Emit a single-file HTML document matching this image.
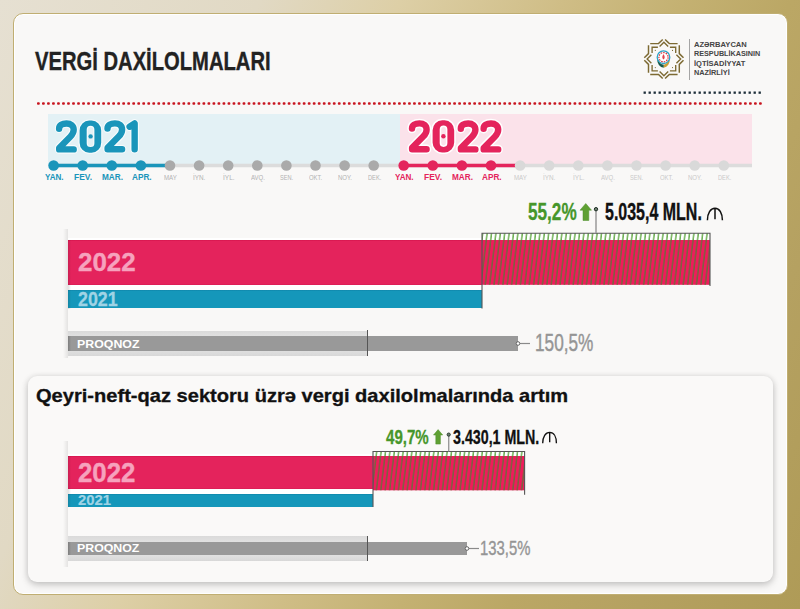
<!DOCTYPE html>
<html><head><meta charset="utf-8">
<style>
*{margin:0;padding:0;box-sizing:border-box}
html,body{width:800px;height:609px;overflow:hidden}
body{position:relative;font-family:"Liberation Sans",sans-serif;
background:linear-gradient(115deg,#e6e0d2 0%,#e1d9c4 24%,#ddcfa6 37%,#cfbd86 52%,#c4b172 63%,#bba765 73%,#b5a161 85%,#af9b57 100%);}
.abs{position:absolute}
.card{position:absolute;left:12.8px;top:12.8px;width:775px;height:582px;border-radius:10px;background:#f9f8f7;border:1px solid #c0ae72;box-shadow:inset 0 0 0 1px #fff}
.t{position:absolute;white-space:nowrap;transform-origin:0 0;line-height:1}
.card2{position:absolute;left:28px;top:376px;width:745px;height:206px;border-radius:9px;background:#faf9f8;
box-shadow:0 1px 6px rgba(0,0,0,.18),0 4px 8px rgba(0,0,0,.10)}
</style></head><body>
<div class="card"></div>

<!-- logo -->
<svg class="abs" style="left:0;top:0" width="800" height="100">
<path d="M665.10 39.40 L669.30 43.60 L677.60 43.60 M679.30 45.30 L679.30 53.60 L683.50 57.80 M683.50 60.20 L679.30 64.40 L679.30 72.70 M677.60 74.40 L669.30 74.40 L665.10 78.60 M662.70 78.60 L658.50 74.40 L650.20 74.40 M648.50 72.70 L648.50 64.40 L644.30 60.20 M644.30 57.80 L648.50 53.60 L648.50 45.30 M650.20 43.60 L658.50 43.60 L662.70 39.40" fill="none" stroke="#7d6a33" stroke-width="1.45" stroke-linejoin="miter"/>
<path d="M669.90 47.20 L675.70 47.20 L675.70 53.00 M676.41 54.71 L680.70 59.00 L676.41 63.29 M675.70 65.00 L675.70 70.80 L669.90 70.80 M668.19 71.51 L663.90 75.80 L659.61 71.51 M657.90 70.80 L652.10 70.80 L652.10 65.00 M651.39 63.29 L647.10 59.00 L651.39 54.71 M652.10 53.00 L652.10 47.20 L657.90 47.20 M659.61 46.49 L663.90 42.20 L668.19 46.49" fill="none" stroke="#7d6a33" stroke-width="1.35" stroke-linejoin="miter"/>
<circle cx="672.50" cy="50.40" r="0.55" fill="#7d6a33"/>
<circle cx="672.50" cy="67.60" r="0.55" fill="#7d6a33"/>
<circle cx="655.30" cy="67.60" r="0.55" fill="#7d6a33"/>
<circle cx="655.30" cy="50.40" r="0.55" fill="#7d6a33"/>
<path d="M657.30 59.40 A7.8 7.8 0 0 0 663.80 67.80 L663.80 64.80 A5.6 5.6 0 0 1 658.90 59.80Z" fill="#1a5b4b"/>
<path d="M669.70 59.40 A7.8 7.8 0 0 1 663.80 67.80 L663.80 64.80 A5.6 5.6 0 0 0 668.10 59.80Z" fill="#c99e36"/>
<circle cx="663.5" cy="57.2" r="6.3" fill="#fff" stroke="#2aa3c6" stroke-width="1.3"/>
<circle cx="663.5" cy="57.2" r="4.6" fill="none" stroke="#d8343c" stroke-width="1.2" stroke-dasharray="1.6 1.0"/>
<path d="M663.5 54.0 C665.1 56.2 665.1 58.400000000000006 663.5 59.400000000000006 C661.9 58.400000000000006 661.9 56.2 663.5 54.0Z" fill="#e2414c"/>
</svg>
<div class="abs" style="left:688.5px;top:38.5px;width:1.6px;height:41.5px;background:#a5a5a5"></div>

<!-- dotted lines -->
<svg class="abs" style="left:0;top:0" width="800" height="120">
 <rect x="643.55" y="91.5" width="2.3" height="2.3" fill="#1c2d38"/>
 <rect x="648.55" y="91.5" width="2.3" height="2.3" fill="#1c2d38"/>
 <rect x="653.55" y="91.5" width="2.3" height="2.3" fill="#1c2d38"/>
 <rect x="658.55" y="91.5" width="2.3" height="2.3" fill="#1c2d38"/>
 <rect x="663.55" y="91.5" width="2.3" height="2.3" fill="#1c2d38"/>
 <rect x="668.55" y="91.5" width="2.3" height="2.3" fill="#1c2d38"/>
 <rect x="673.55" y="91.5" width="2.3" height="2.3" fill="#1c2d38"/>
 <rect x="678.55" y="91.5" width="2.3" height="2.3" fill="#1c2d38"/>
 <rect x="683.55" y="91.5" width="2.3" height="2.3" fill="#1c2d38"/>
 <rect x="688.55" y="91.5" width="2.3" height="2.3" fill="#1c2d38"/>
 <rect x="693.55" y="91.5" width="2.3" height="2.3" fill="#1c2d38"/>
 <rect x="698.55" y="91.5" width="2.3" height="2.3" fill="#1c2d38"/>
 <rect x="703.55" y="91.5" width="2.3" height="2.3" fill="#1c2d38"/>
 <rect x="708.55" y="91.5" width="2.3" height="2.3" fill="#1c2d38"/>
 <rect x="713.55" y="91.5" width="2.3" height="2.3" fill="#1c2d38"/>
 <rect x="718.55" y="91.5" width="2.3" height="2.3" fill="#1c2d38"/>
 <rect x="723.55" y="91.5" width="2.3" height="2.3" fill="#1c2d38"/>
 <rect x="728.55" y="91.5" width="2.3" height="2.3" fill="#1c2d38"/>
 <rect x="733.55" y="91.5" width="2.3" height="2.3" fill="#1c2d38"/>
 <rect x="738.55" y="91.5" width="2.3" height="2.3" fill="#1c2d38"/>
 <rect x="743.55" y="91.5" width="2.3" height="2.3" fill="#1c2d38"/>
 <rect x="748.55" y="91.5" width="2.3" height="2.3" fill="#1c2d38"/>
 <rect x="753.55" y="91.5" width="2.3" height="2.3" fill="#1c2d38"/>
 <rect x="758.55" y="91.5" width="2.3" height="2.3" fill="#1c2d38"/>
 <rect x="37.00" y="102.25" width="2.8" height="2.5" rx="0.9" fill="#c8141f"/>
 <rect x="42.01" y="102.25" width="2.8" height="2.5" rx="0.9" fill="#c8141f"/>
 <rect x="47.03" y="102.25" width="2.8" height="2.5" rx="0.9" fill="#c8141f"/>
 <rect x="52.04" y="102.25" width="2.8" height="2.5" rx="0.9" fill="#c8141f"/>
 <rect x="57.06" y="102.25" width="2.8" height="2.5" rx="0.9" fill="#c8141f"/>
 <rect x="62.07" y="102.25" width="2.8" height="2.5" rx="0.9" fill="#c8141f"/>
 <rect x="67.08" y="102.25" width="2.8" height="2.5" rx="0.9" fill="#c8141f"/>
 <rect x="72.10" y="102.25" width="2.8" height="2.5" rx="0.9" fill="#c8141f"/>
 <rect x="77.11" y="102.25" width="2.8" height="2.5" rx="0.9" fill="#c8141f"/>
 <rect x="82.13" y="102.25" width="2.8" height="2.5" rx="0.9" fill="#c8141f"/>
 <rect x="87.14" y="102.25" width="2.8" height="2.5" rx="0.9" fill="#c8141f"/>
 <rect x="92.15" y="102.25" width="2.8" height="2.5" rx="0.9" fill="#c8141f"/>
 <rect x="97.17" y="102.25" width="2.8" height="2.5" rx="0.9" fill="#c8141f"/>
 <rect x="102.18" y="102.25" width="2.8" height="2.5" rx="0.9" fill="#c8141f"/>
 <rect x="107.20" y="102.25" width="2.8" height="2.5" rx="0.9" fill="#c8141f"/>
 <rect x="112.21" y="102.25" width="2.8" height="2.5" rx="0.9" fill="#c8141f"/>
 <rect x="117.22" y="102.25" width="2.8" height="2.5" rx="0.9" fill="#c8141f"/>
 <rect x="122.24" y="102.25" width="2.8" height="2.5" rx="0.9" fill="#c8141f"/>
 <rect x="127.25" y="102.25" width="2.8" height="2.5" rx="0.9" fill="#c8141f"/>
 <rect x="132.27" y="102.25" width="2.8" height="2.5" rx="0.9" fill="#c8141f"/>
 <rect x="137.28" y="102.25" width="2.8" height="2.5" rx="0.9" fill="#c8141f"/>
 <rect x="142.29" y="102.25" width="2.8" height="2.5" rx="0.9" fill="#c8141f"/>
 <rect x="147.31" y="102.25" width="2.8" height="2.5" rx="0.9" fill="#c8141f"/>
 <rect x="152.32" y="102.25" width="2.8" height="2.5" rx="0.9" fill="#c8141f"/>
 <rect x="157.34" y="102.25" width="2.8" height="2.5" rx="0.9" fill="#c8141f"/>
 <rect x="162.35" y="102.25" width="2.8" height="2.5" rx="0.9" fill="#c8141f"/>
 <rect x="167.36" y="102.25" width="2.8" height="2.5" rx="0.9" fill="#c8141f"/>
 <rect x="172.38" y="102.25" width="2.8" height="2.5" rx="0.9" fill="#c8141f"/>
 <rect x="177.39" y="102.25" width="2.8" height="2.5" rx="0.9" fill="#c8141f"/>
 <rect x="182.41" y="102.25" width="2.8" height="2.5" rx="0.9" fill="#c8141f"/>
 <rect x="187.42" y="102.25" width="2.8" height="2.5" rx="0.9" fill="#c8141f"/>
 <rect x="192.43" y="102.25" width="2.8" height="2.5" rx="0.9" fill="#c8141f"/>
 <rect x="197.45" y="102.25" width="2.8" height="2.5" rx="0.9" fill="#c8141f"/>
 <rect x="202.46" y="102.25" width="2.8" height="2.5" rx="0.9" fill="#c8141f"/>
 <rect x="207.48" y="102.25" width="2.8" height="2.5" rx="0.9" fill="#c8141f"/>
 <rect x="212.49" y="102.25" width="2.8" height="2.5" rx="0.9" fill="#c8141f"/>
 <rect x="217.50" y="102.25" width="2.8" height="2.5" rx="0.9" fill="#c8141f"/>
 <rect x="222.52" y="102.25" width="2.8" height="2.5" rx="0.9" fill="#c8141f"/>
 <rect x="227.53" y="102.25" width="2.8" height="2.5" rx="0.9" fill="#c8141f"/>
 <rect x="232.55" y="102.25" width="2.8" height="2.5" rx="0.9" fill="#c8141f"/>
 <rect x="237.56" y="102.25" width="2.8" height="2.5" rx="0.9" fill="#c8141f"/>
 <rect x="242.57" y="102.25" width="2.8" height="2.5" rx="0.9" fill="#c8141f"/>
 <rect x="247.59" y="102.25" width="2.8" height="2.5" rx="0.9" fill="#c8141f"/>
 <rect x="252.60" y="102.25" width="2.8" height="2.5" rx="0.9" fill="#c8141f"/>
 <rect x="257.62" y="102.25" width="2.8" height="2.5" rx="0.9" fill="#c8141f"/>
 <rect x="262.63" y="102.25" width="2.8" height="2.5" rx="0.9" fill="#c8141f"/>
 <rect x="267.64" y="102.25" width="2.8" height="2.5" rx="0.9" fill="#c8141f"/>
 <rect x="272.66" y="102.25" width="2.8" height="2.5" rx="0.9" fill="#c8141f"/>
 <rect x="277.67" y="102.25" width="2.8" height="2.5" rx="0.9" fill="#c8141f"/>
 <rect x="282.69" y="102.25" width="2.8" height="2.5" rx="0.9" fill="#c8141f"/>
 <rect x="287.70" y="102.25" width="2.8" height="2.5" rx="0.9" fill="#c8141f"/>
 <rect x="292.71" y="102.25" width="2.8" height="2.5" rx="0.9" fill="#c8141f"/>
 <rect x="297.73" y="102.25" width="2.8" height="2.5" rx="0.9" fill="#c8141f"/>
 <rect x="302.74" y="102.25" width="2.8" height="2.5" rx="0.9" fill="#c8141f"/>
 <rect x="307.76" y="102.25" width="2.8" height="2.5" rx="0.9" fill="#c8141f"/>
 <rect x="312.77" y="102.25" width="2.8" height="2.5" rx="0.9" fill="#c8141f"/>
 <rect x="317.78" y="102.25" width="2.8" height="2.5" rx="0.9" fill="#c8141f"/>
 <rect x="322.80" y="102.25" width="2.8" height="2.5" rx="0.9" fill="#c8141f"/>
 <rect x="327.81" y="102.25" width="2.8" height="2.5" rx="0.9" fill="#c8141f"/>
 <rect x="332.83" y="102.25" width="2.8" height="2.5" rx="0.9" fill="#c8141f"/>
 <rect x="337.84" y="102.25" width="2.8" height="2.5" rx="0.9" fill="#c8141f"/>
 <rect x="342.85" y="102.25" width="2.8" height="2.5" rx="0.9" fill="#c8141f"/>
 <rect x="347.87" y="102.25" width="2.8" height="2.5" rx="0.9" fill="#c8141f"/>
 <rect x="352.88" y="102.25" width="2.8" height="2.5" rx="0.9" fill="#c8141f"/>
 <rect x="357.90" y="102.25" width="2.8" height="2.5" rx="0.9" fill="#c8141f"/>
 <rect x="362.91" y="102.25" width="2.8" height="2.5" rx="0.9" fill="#c8141f"/>
 <rect x="367.92" y="102.25" width="2.8" height="2.5" rx="0.9" fill="#c8141f"/>
 <rect x="372.94" y="102.25" width="2.8" height="2.5" rx="0.9" fill="#c8141f"/>
 <rect x="377.95" y="102.25" width="2.8" height="2.5" rx="0.9" fill="#c8141f"/>
 <rect x="382.97" y="102.25" width="2.8" height="2.5" rx="0.9" fill="#c8141f"/>
 <rect x="387.98" y="102.25" width="2.8" height="2.5" rx="0.9" fill="#c8141f"/>
 <rect x="392.99" y="102.25" width="2.8" height="2.5" rx="0.9" fill="#c8141f"/>
 <rect x="398.01" y="102.25" width="2.8" height="2.5" rx="0.9" fill="#c8141f"/>
 <rect x="403.02" y="102.25" width="2.8" height="2.5" rx="0.9" fill="#c8141f"/>
 <rect x="408.04" y="102.25" width="2.8" height="2.5" rx="0.9" fill="#c8141f"/>
 <rect x="413.05" y="102.25" width="2.8" height="2.5" rx="0.9" fill="#c8141f"/>
 <rect x="418.06" y="102.25" width="2.8" height="2.5" rx="0.9" fill="#c8141f"/>
 <rect x="423.08" y="102.25" width="2.8" height="2.5" rx="0.9" fill="#c8141f"/>
 <rect x="428.09" y="102.25" width="2.8" height="2.5" rx="0.9" fill="#c8141f"/>
 <rect x="433.11" y="102.25" width="2.8" height="2.5" rx="0.9" fill="#c8141f"/>
 <rect x="438.12" y="102.25" width="2.8" height="2.5" rx="0.9" fill="#c8141f"/>
 <rect x="443.13" y="102.25" width="2.8" height="2.5" rx="0.9" fill="#c8141f"/>
 <rect x="448.15" y="102.25" width="2.8" height="2.5" rx="0.9" fill="#c8141f"/>
 <rect x="453.16" y="102.25" width="2.8" height="2.5" rx="0.9" fill="#c8141f"/>
 <rect x="458.18" y="102.25" width="2.8" height="2.5" rx="0.9" fill="#c8141f"/>
 <rect x="463.19" y="102.25" width="2.8" height="2.5" rx="0.9" fill="#c8141f"/>
 <rect x="468.20" y="102.25" width="2.8" height="2.5" rx="0.9" fill="#c8141f"/>
 <rect x="473.22" y="102.25" width="2.8" height="2.5" rx="0.9" fill="#c8141f"/>
 <rect x="478.23" y="102.25" width="2.8" height="2.5" rx="0.9" fill="#c8141f"/>
 <rect x="483.25" y="102.25" width="2.8" height="2.5" rx="0.9" fill="#c8141f"/>
 <rect x="488.26" y="102.25" width="2.8" height="2.5" rx="0.9" fill="#c8141f"/>
 <rect x="493.27" y="102.25" width="2.8" height="2.5" rx="0.9" fill="#c8141f"/>
 <rect x="498.29" y="102.25" width="2.8" height="2.5" rx="0.9" fill="#c8141f"/>
 <rect x="503.30" y="102.25" width="2.8" height="2.5" rx="0.9" fill="#c8141f"/>
 <rect x="508.32" y="102.25" width="2.8" height="2.5" rx="0.9" fill="#c8141f"/>
 <rect x="513.33" y="102.25" width="2.8" height="2.5" rx="0.9" fill="#c8141f"/>
 <rect x="518.34" y="102.25" width="2.8" height="2.5" rx="0.9" fill="#c8141f"/>
 <rect x="523.36" y="102.25" width="2.8" height="2.5" rx="0.9" fill="#c8141f"/>
 <rect x="528.37" y="102.25" width="2.8" height="2.5" rx="0.9" fill="#c8141f"/>
 <rect x="533.39" y="102.25" width="2.8" height="2.5" rx="0.9" fill="#c8141f"/>
 <rect x="538.40" y="102.25" width="2.8" height="2.5" rx="0.9" fill="#c8141f"/>
 <rect x="543.41" y="102.25" width="2.8" height="2.5" rx="0.9" fill="#c8141f"/>
 <rect x="548.43" y="102.25" width="2.8" height="2.5" rx="0.9" fill="#c8141f"/>
 <rect x="553.44" y="102.25" width="2.8" height="2.5" rx="0.9" fill="#c8141f"/>
 <rect x="558.46" y="102.25" width="2.8" height="2.5" rx="0.9" fill="#c8141f"/>
 <rect x="563.47" y="102.25" width="2.8" height="2.5" rx="0.9" fill="#c8141f"/>
 <rect x="568.48" y="102.25" width="2.8" height="2.5" rx="0.9" fill="#c8141f"/>
 <rect x="573.50" y="102.25" width="2.8" height="2.5" rx="0.9" fill="#c8141f"/>
 <rect x="578.51" y="102.25" width="2.8" height="2.5" rx="0.9" fill="#c8141f"/>
 <rect x="583.53" y="102.25" width="2.8" height="2.5" rx="0.9" fill="#c8141f"/>
 <rect x="588.54" y="102.25" width="2.8" height="2.5" rx="0.9" fill="#c8141f"/>
 <rect x="593.55" y="102.25" width="2.8" height="2.5" rx="0.9" fill="#c8141f"/>
 <rect x="598.57" y="102.25" width="2.8" height="2.5" rx="0.9" fill="#c8141f"/>
 <rect x="603.58" y="102.25" width="2.8" height="2.5" rx="0.9" fill="#c8141f"/>
 <rect x="608.60" y="102.25" width="2.8" height="2.5" rx="0.9" fill="#c8141f"/>
 <rect x="613.61" y="102.25" width="2.8" height="2.5" rx="0.9" fill="#c8141f"/>
 <rect x="618.62" y="102.25" width="2.8" height="2.5" rx="0.9" fill="#c8141f"/>
 <rect x="623.64" y="102.25" width="2.8" height="2.5" rx="0.9" fill="#c8141f"/>
 <rect x="628.65" y="102.25" width="2.8" height="2.5" rx="0.9" fill="#c8141f"/>
 <rect x="633.67" y="102.25" width="2.8" height="2.5" rx="0.9" fill="#c8141f"/>
 <rect x="638.68" y="102.25" width="2.8" height="2.5" rx="0.9" fill="#c8141f"/>
 <rect x="643.69" y="102.25" width="2.8" height="2.5" rx="0.9" fill="#c8141f"/>
 <rect x="648.71" y="102.25" width="2.8" height="2.5" rx="0.9" fill="#c8141f"/>
 <rect x="653.72" y="102.25" width="2.8" height="2.5" rx="0.9" fill="#c8141f"/>
 <rect x="658.74" y="102.25" width="2.8" height="2.5" rx="0.9" fill="#c8141f"/>
 <rect x="663.75" y="102.25" width="2.8" height="2.5" rx="0.9" fill="#c8141f"/>
 <rect x="668.76" y="102.25" width="2.8" height="2.5" rx="0.9" fill="#c8141f"/>
 <rect x="673.78" y="102.25" width="2.8" height="2.5" rx="0.9" fill="#c8141f"/>
 <rect x="678.79" y="102.25" width="2.8" height="2.5" rx="0.9" fill="#c8141f"/>
 <rect x="683.81" y="102.25" width="2.8" height="2.5" rx="0.9" fill="#c8141f"/>
 <rect x="688.82" y="102.25" width="2.8" height="2.5" rx="0.9" fill="#c8141f"/>
 <rect x="693.83" y="102.25" width="2.8" height="2.5" rx="0.9" fill="#c8141f"/>
 <rect x="698.85" y="102.25" width="2.8" height="2.5" rx="0.9" fill="#c8141f"/>
 <rect x="703.86" y="102.25" width="2.8" height="2.5" rx="0.9" fill="#c8141f"/>
 <rect x="708.88" y="102.25" width="2.8" height="2.5" rx="0.9" fill="#c8141f"/>
 <rect x="713.89" y="102.25" width="2.8" height="2.5" rx="0.9" fill="#c8141f"/>
 <rect x="718.90" y="102.25" width="2.8" height="2.5" rx="0.9" fill="#c8141f"/>
 <rect x="723.92" y="102.25" width="2.8" height="2.5" rx="0.9" fill="#c8141f"/>
 <rect x="728.93" y="102.25" width="2.8" height="2.5" rx="0.9" fill="#c8141f"/>
 <rect x="733.95" y="102.25" width="2.8" height="2.5" rx="0.9" fill="#c8141f"/>
 <rect x="738.96" y="102.25" width="2.8" height="2.5" rx="0.9" fill="#c8141f"/>
 <rect x="743.97" y="102.25" width="2.8" height="2.5" rx="0.9" fill="#c8141f"/>
 <rect x="748.99" y="102.25" width="2.8" height="2.5" rx="0.9" fill="#c8141f"/>
 <rect x="754.00" y="102.25" width="2.8" height="2.5" rx="0.9" fill="#c8141f"/>
 <rect x="759.02" y="102.25" width="2.8" height="2.5" rx="0.9" fill="#c8141f"/>
</svg>

<!-- timeline bands -->
<div class="abs" style="left:48px;top:114.3px;width:352px;height:51px;background:#e3f1f5"></div>
<div class="abs" style="left:400px;top:114.3px;width:352px;height:51px;background:#fbe2ea"></div>

<!-- year digits -->
<svg class="abs" style="left:0;top:110px" width="800" height="50" viewBox="0 110 800 50">
 <g stroke="#f7fcfd" stroke-width="8.6">
  <path transform="translate(55.9 120.3)" d="M3.2 8.4 C3.2 4.8 6.3 3.2 10.6 3.2 C15.0 3.2 17.8 5.4 17.8 9.5 C17.8 12.4 16.6 14.2 14.4 16.4 L3.3 27.6 L3.3 29.1 L17.8 29.1" fill="none" stroke-linecap="round" stroke-linejoin="round"/><path transform="translate(104.3 120.2)" d="M3.2 8.4 C3.2 4.8 6.3 3.2 10.6 3.2 C15.0 3.2 17.8 5.4 17.8 9.5 C17.8 12.4 16.6 14.2 14.4 16.4 L3.3 27.6 L3.3 29.1 L17.8 29.1" fill="none" stroke-linecap="round" stroke-linejoin="round"/><path transform="translate(126.4 120.1)" d="M3.2 6.6 L8.25 3.3 L8.25 29.1" fill="none" stroke-linecap="round" stroke-linejoin="round"/>
 </g>
 <path transform="translate(79.6 120.5)" d="M9.6 0 H12 A9.6 10 0 0 1 21.6 10 V22.2 A9.6 10 0 0 1 12 32.2 H9.6 A9.6 10 0 0 1 0 22.2 V10 A9.6 10 0 0 1 9.6 0Z M10.95 5.3 A3.85 3.85 0 0 0 7.1 9.15 V22.75 A3.85 3.85 0 0 0 14.8 22.75 V9.15 A3.85 3.85 0 0 0 10.95 5.3Z" fill-rule="evenodd" fill="#1a95ba" stroke="#f7fcfd" stroke-width="2.2"/>
 <g stroke="#1a95ba" stroke-width="6.4">
  <path transform="translate(55.9 120.3)" d="M3.2 8.4 C3.2 4.8 6.3 3.2 10.6 3.2 C15.0 3.2 17.8 5.4 17.8 9.5 C17.8 12.4 16.6 14.2 14.4 16.4 L3.3 27.6 L3.3 29.1 L17.8 29.1" fill="none" stroke-linecap="round" stroke-linejoin="round"/><path transform="translate(104.3 120.2)" d="M3.2 8.4 C3.2 4.8 6.3 3.2 10.6 3.2 C15.0 3.2 17.8 5.4 17.8 9.5 C17.8 12.4 16.6 14.2 14.4 16.4 L3.3 27.6 L3.3 29.1 L17.8 29.1" fill="none" stroke-linecap="round" stroke-linejoin="round"/><path transform="translate(126.4 120.1)" d="M3.2 6.6 L8.25 3.3 L8.25 29.1" fill="none" stroke-linecap="round" stroke-linejoin="round"/>
 </g>
 <path transform="translate(79.6 120.5)" d="M9.6 0 H12 A9.6 10 0 0 1 21.6 10 V22.2 A9.6 10 0 0 1 12 32.2 H9.6 A9.6 10 0 0 1 0 22.2 V10 A9.6 10 0 0 1 9.6 0Z M10.95 5.3 A3.85 3.85 0 0 0 7.1 9.15 V22.75 A3.85 3.85 0 0 0 14.8 22.75 V9.15 A3.85 3.85 0 0 0 10.95 5.3Z" fill-rule="evenodd" fill="#1a95ba"/>
 <circle cx="90.6" cy="136.4" r="2.2" fill="#1a95ba"/>

 <g stroke="#ffffff" stroke-width="9.4">
  <path transform="translate(408.8 120.2)" d="M3.2 8.4 C3.2 4.8 6.3 3.2 10.6 3.2 C15.0 3.2 17.8 5.4 17.8 9.5 C17.8 12.4 16.6 14.2 14.4 16.4 L3.3 27.6 L3.3 29.1 L17.8 29.1" fill="none" stroke-linecap="round" stroke-linejoin="round"/><path transform="translate(457.6 120.3)" d="M3.2 8.4 C3.2 4.8 6.3 3.2 10.6 3.2 C15.0 3.2 17.8 5.4 17.8 9.5 C17.8 12.4 16.6 14.2 14.4 16.4 L3.3 27.6 L3.3 29.1 L17.8 29.1" fill="none" stroke-linecap="round" stroke-linejoin="round"/><path transform="translate(480.4 120.3)" d="M3.2 8.4 C3.2 4.8 6.3 3.2 10.6 3.2 C15.0 3.2 17.8 5.4 17.8 9.5 C17.8 12.4 16.6 14.2 14.4 16.4 L3.3 27.6 L3.3 29.1 L17.8 29.1" fill="none" stroke-linecap="round" stroke-linejoin="round"/>
 </g>
 <path transform="translate(432.6 120.3)" d="M9.6 0 H12 A9.6 10 0 0 1 21.6 10 V22.2 A9.6 10 0 0 1 12 32.2 H9.6 A9.6 10 0 0 1 0 22.2 V10 A9.6 10 0 0 1 9.6 0Z M10.95 5.3 A3.85 3.85 0 0 0 7.1 9.15 V22.75 A3.85 3.85 0 0 0 14.8 22.75 V9.15 A3.85 3.85 0 0 0 10.95 5.3Z" fill-rule="evenodd" fill="#e4245c" stroke="#ffffff" stroke-width="3"/>
 <g stroke="#e4245c" stroke-width="6.4">
  <path transform="translate(408.8 120.2)" d="M3.2 8.4 C3.2 4.8 6.3 3.2 10.6 3.2 C15.0 3.2 17.8 5.4 17.8 9.5 C17.8 12.4 16.6 14.2 14.4 16.4 L3.3 27.6 L3.3 29.1 L17.8 29.1" fill="none" stroke-linecap="round" stroke-linejoin="round"/><path transform="translate(457.6 120.3)" d="M3.2 8.4 C3.2 4.8 6.3 3.2 10.6 3.2 C15.0 3.2 17.8 5.4 17.8 9.5 C17.8 12.4 16.6 14.2 14.4 16.4 L3.3 27.6 L3.3 29.1 L17.8 29.1" fill="none" stroke-linecap="round" stroke-linejoin="round"/><path transform="translate(480.4 120.3)" d="M3.2 8.4 C3.2 4.8 6.3 3.2 10.6 3.2 C15.0 3.2 17.8 5.4 17.8 9.5 C17.8 12.4 16.6 14.2 14.4 16.4 L3.3 27.6 L3.3 29.1 L17.8 29.1" fill="none" stroke-linecap="round" stroke-linejoin="round"/>
 </g>
 <path transform="translate(432.6 120.3)" d="M9.6 0 H12 A9.6 10 0 0 1 21.6 10 V22.2 A9.6 10 0 0 1 12 32.2 H9.6 A9.6 10 0 0 1 0 22.2 V10 A9.6 10 0 0 1 9.6 0Z M10.95 5.3 A3.85 3.85 0 0 0 7.1 9.15 V22.75 A3.85 3.85 0 0 0 14.8 22.75 V9.15 A3.85 3.85 0 0 0 10.95 5.3Z" fill-rule="evenodd" fill="#e4245c"/>
 <circle cx="443.4" cy="136.2" r="2.2" fill="#e4245c"/>
</svg>

<!-- timeline line + dots -->
<svg class="abs" style="left:0;top:155px" width="800" height="22" viewBox="0 155 800 22">
 <line x1="50" y1="165.5" x2="752" y2="165.5" stroke="#dcdcdc" stroke-width="3.6"/>
 <line x1="53.6" y1="165.5" x2="166" y2="165.5" stroke="#1a95ba" stroke-width="3.4"/>
 <line x1="403.7" y1="165.5" x2="516" y2="165.5" stroke="#e4245c" stroke-width="3.4"/>
<circle cx="53.6" cy="165.5" r="5.3" fill="#1a95ba"/>
<circle cx="403.7" cy="165.5" r="5.3" fill="#e4245c"/>
<circle cx="82.7" cy="165.5" r="5.3" fill="#1a95ba"/>
<circle cx="432.8" cy="165.5" r="5.3" fill="#e4245c"/>
<circle cx="111.8" cy="165.5" r="5.3" fill="#1a95ba"/>
<circle cx="461.9" cy="165.5" r="5.3" fill="#e4245c"/>
<circle cx="140.9" cy="165.5" r="5.3" fill="#1a95ba"/>
<circle cx="491.0" cy="165.5" r="5.3" fill="#e4245c"/>
<circle cx="170.0" cy="165.5" r="5.3" fill="#aaaaaa"/>
<circle cx="520.1" cy="165.5" r="5.3" fill="#d9d9d9"/>
<circle cx="199.1" cy="165.5" r="5.3" fill="#aaaaaa"/>
<circle cx="549.2" cy="165.5" r="5.3" fill="#d9d9d9"/>
<circle cx="228.2" cy="165.5" r="5.3" fill="#aaaaaa"/>
<circle cx="578.3" cy="165.5" r="5.3" fill="#d9d9d9"/>
<circle cx="257.3" cy="165.5" r="5.3" fill="#aaaaaa"/>
<circle cx="607.4" cy="165.5" r="5.3" fill="#d9d9d9"/>
<circle cx="286.4" cy="165.5" r="5.3" fill="#aaaaaa"/>
<circle cx="636.5" cy="165.5" r="5.3" fill="#d9d9d9"/>
<circle cx="315.5" cy="165.5" r="5.3" fill="#aaaaaa"/>
<circle cx="665.6" cy="165.5" r="5.3" fill="#d9d9d9"/>
<circle cx="344.6" cy="165.5" r="5.3" fill="#aaaaaa"/>
<circle cx="694.7" cy="165.5" r="5.3" fill="#d9d9d9"/>
<circle cx="373.7" cy="165.5" r="5.3" fill="#aaaaaa"/>
<circle cx="723.8" cy="165.5" r="5.3" fill="#d9d9d9"/>
</svg>

<!-- section 1 -->
<div class="abs" style="left:63px;top:229px;width:5px;height:129px;background:linear-gradient(90deg,rgba(0,0,0,0),rgba(0,0,0,.085))"></div>
<div class="abs" style="left:68px;top:237.6px;width:414px;height:53px;background:#fff"></div>
<div class="abs" style="left:68px;top:240px;width:414px;height:44.7px;background:linear-gradient(#d3134b,#e4235c 1.2px,#e4235c calc(100% - 1px),#d61a52);"></div>
<div class="abs" style="left:68px;top:290.3px;width:414px;height:18.2px;background:linear-gradient(#0f84a8,#1597ba 1.2px)"></div>

<div class="abs" style="left:68px;top:330.5px;width:300px;height:25.5px;background:linear-gradient(#dadada,#e6e6e6 40%,#e6e6e6 60%,#d8d8d8)"></div>
<div class="abs" style="left:68px;top:336.2px;width:450px;height:14.5px;background:#999999"></div>
<div class="abs" style="left:366.8px;top:329.8px;width:1.3px;height:26.6px;background:#555"></div>

<!-- section 2 card -->
<div class="card2"></div>

<div class="abs" style="left:63px;top:441px;width:5px;height:126px;background:linear-gradient(90deg,rgba(0,0,0,0),rgba(0,0,0,.085))"></div>
<div class="abs" style="left:68px;top:454px;width:305px;height:40px;background:#fff"></div>
<div class="abs" style="left:68px;top:456px;width:305px;height:33.3px;background:linear-gradient(#d3134b,#e4235c 1.2px,#e4235c calc(100% - 1px),#d61a52);"></div>
<div class="abs" style="left:68px;top:493.6px;width:305px;height:13.6px;background:linear-gradient(#0f84a8,#1597ba 1.2px)"></div>

<div class="abs" style="left:68px;top:535.8px;width:300px;height:25.2px;background:linear-gradient(#dadada,#e6e6e6 40%,#e6e6e6 60%,#d8d8d8)"></div>
<div class="abs" style="left:68px;top:541.5px;width:399px;height:13.8px;background:#999999"></div>
<div class="abs" style="left:366.8px;top:535.5px;width:1.3px;height:25.8px;background:#555"></div>

<div class="abs" style="left:68px;top:240px;width:3px;height:68.5px;background:linear-gradient(90deg,rgba(0,0,0,.12),rgba(0,0,0,0))"></div>
<div class="abs" style="left:68px;top:336.2px;width:3px;height:14.5px;background:linear-gradient(90deg,rgba(0,0,0,.18),rgba(0,0,0,0))"></div>
<div class="abs" style="left:68px;top:456px;width:3px;height:51.2px;background:linear-gradient(90deg,rgba(0,0,0,.12),rgba(0,0,0,0))"></div>
<div class="abs" style="left:68px;top:541.5px;width:3px;height:13.8px;background:linear-gradient(90deg,rgba(0,0,0,.18),rgba(0,0,0,0))"></div>
<!-- hatched boxes + annotations -->
<svg class="abs" style="left:0;top:0" width="800" height="609">
 <defs>
  <pattern id="hp" width="4.4" height="10" patternUnits="userSpaceOnUse" patternTransform="skewX(-7)">
   <line x1="1" y1="0" x2="1" y2="10" stroke="#62a845" stroke-width="1.4"/>
  </pattern>
  <pattern id="hp2" width="4.4" height="10" patternUnits="userSpaceOnUse" patternTransform="skewX(-7)">
   <line x1="1" y1="0" x2="1" y2="10" stroke="#6f6a3c" stroke-width="1.4"/>
  </pattern>
 </defs>
 <!-- box 1 -->
 <rect x="482" y="233.2" width="228" height="7" fill="#fff"/>
 <rect x="482" y="233.2" width="228" height="7" fill="url(#hp)"/>
 <rect x="482" y="240" width="228" height="44.8" fill="#ef1b5b"/>
 <rect x="482" y="240" width="228" height="44.8" fill="url(#hp2)"/>
 <path d="M482 308.5 L482 233.2 L710 233.2 L710 286" fill="none" stroke="#555" stroke-width="1.1"/>
 <line x1="596" y1="210" x2="596" y2="233" stroke="#9a9a9a" stroke-width="1.5"/>
 <circle cx="596" cy="209.2" r="1.7" fill="#6d7f70" stroke="#1f2f25" stroke-width="1"/>
 <!-- box 2 -->
 <rect x="373" y="451.5" width="151.6" height="4.6" fill="#fff"/>
 <rect x="373" y="451.5" width="151.6" height="4.6" fill="url(#hp)"/>
 <rect x="373" y="456" width="151.6" height="34.3" fill="#ef1b5b"/>
 <rect x="373" y="456" width="151.6" height="34.3" fill="url(#hp2)"/>
 <path d="M373 507 L373 451.5 L524.6 451.5 L524.6 494.8" fill="none" stroke="#555" stroke-width="1.1"/>
 <line x1="448.7" y1="435.5" x2="448.7" y2="451.5" stroke="#9a9a9a" stroke-width="1.4"/>
 <circle cx="448.7" cy="434.6" r="1.6" fill="#6d7f70" stroke="#1f2f25" stroke-width="0.9"/>
 <!-- proqnoz ends -->
 <line x1="518" y1="343.5" x2="530" y2="343.5" stroke="#8a8a8a" stroke-width="1.2"/>
 <circle cx="518" cy="343.5" r="1.8" fill="#fff" stroke="#666" stroke-width="1"/>
 <line x1="467" y1="548.5" x2="479" y2="548.5" stroke="#8a8a8a" stroke-width="1.2"/>
 <circle cx="467" cy="548.5" r="1.8" fill="#fff" stroke="#666" stroke-width="1"/>
 <!-- arrows -->
 <path d="M585.75 203.5 L591.5 210.2 L588.8 210.2 L588.8 220.5 L583 220.5 L583 210.2 L580 210.2Z" fill="#5fa033" stroke="#4d8f2a" stroke-width="0.5" stroke-linejoin="round"/>
 <path d="M438.1 429.6 L442.7 435 L440.4 435 L440.4 444.1 L435.8 444.1 L435.8 435 L433.5 435Z" fill="#5fa033" stroke="#4d8f2a" stroke-width="0.5" stroke-linejoin="round"/>
 <!-- manat -->
 <path d="M707.4 220.3 C707.4 213 710.5 208.3 715 208.3 C719.5 208.3 722.4 213 722.4 220.3 M715 208.3 L715 219.3" fill="none" stroke="#111" stroke-width="1.5"/>
 <path d="M542.7 443.2 C542.7 436.6 545.6 432.3 549.7 432.3 C553.8 432.3 556.4 436.6 556.4 443.2 M549.7 432.3 L549.7 442.2" fill="none" stroke="#111" stroke-width="1.35"/>
</svg>

<div class="t" style="left:34.50px;top:49.24px;font-size:25.60px;font-weight:700;color:#222;transform:scaleX(0.7892);-webkit-text-stroke:0.35px #222;">VERGİ DAXİLOLMALARI</div>
<div class="t" style="left:694.38px;top:41.66px;font-size:7.11px;font-weight:700;color:#454545;transform:scaleX(1.0661);">AZƏRBAYCAN</div>
<div class="t" style="left:694.05px;top:51.16px;font-size:7.11px;font-weight:700;color:#454545;transform:scaleX(1.0159);">RESPUBLİKASININ</div>
<div class="t" style="left:694.03px;top:60.96px;font-size:7.11px;font-weight:700;color:#454545;transform:scaleX(1.0551);">İQTİSADİYYAT</div>
<div class="t" style="left:694.04px;top:70.46px;font-size:7.11px;font-weight:700;color:#454545;transform:scaleX(1.0295);">NAZİRLİYİ</div>
<div class="t" style="left:44.87px;top:172.32px;font-size:9.39px;font-weight:700;color:#1a95ba;transform:scaleX(0.8628);">YAN.</div>
<div class="t" style="left:74.07px;top:172.32px;font-size:9.39px;font-weight:700;color:#1a95ba;transform:scaleX(0.9014);">FEV.</div>
<div class="t" style="left:101.69px;top:172.32px;font-size:9.39px;font-weight:700;color:#1a95ba;transform:scaleX(0.8755);">MAR.</div>
<div class="t" style="left:131.67px;top:172.32px;font-size:9.39px;font-weight:700;color:#1a95ba;transform:scaleX(0.8746);">APR.</div>
<div class="t" style="left:163.77px;top:174.41px;font-size:7.40px;font-weight:400;color:#b2b2b2;transform:scaleX(0.8300);">MAY</div>
<div class="t" style="left:193.35px;top:174.41px;font-size:7.40px;font-weight:400;color:#b2b2b2;transform:scaleX(0.8602);">İYN.</div>
<div class="t" style="left:222.84px;top:174.41px;font-size:7.40px;font-weight:400;color:#b2b2b2;transform:scaleX(0.8817);">İYL.</div>
<div class="t" style="left:251.00px;top:174.41px;font-size:7.40px;font-weight:400;color:#b2b2b2;transform:scaleX(0.8143);">AVQ.</div>
<div class="t" style="left:280.37px;top:174.41px;font-size:7.40px;font-weight:400;color:#b2b2b2;transform:scaleX(0.7640);">SEN.</div>
<div class="t" style="left:309.47px;top:174.41px;font-size:7.40px;font-weight:400;color:#b2b2b2;transform:scaleX(0.7975);">OKT.</div>
<div class="t" style="left:338.03px;top:174.41px;font-size:7.40px;font-weight:400;color:#b2b2b2;transform:scaleX(0.8186);">NOY.</div>
<div class="t" style="left:367.51px;top:174.41px;font-size:7.40px;font-weight:400;color:#b2b2b2;transform:scaleX(0.7680);">DEK.</div>
<div class="t" style="left:394.97px;top:172.32px;font-size:9.39px;font-weight:700;color:#e4245c;transform:scaleX(0.8628);">YAN.</div>
<div class="t" style="left:424.17px;top:172.32px;font-size:9.39px;font-weight:700;color:#e4245c;transform:scaleX(0.9014);">FEV.</div>
<div class="t" style="left:451.79px;top:172.32px;font-size:9.39px;font-weight:700;color:#e4245c;transform:scaleX(0.8755);">MAR.</div>
<div class="t" style="left:481.77px;top:172.32px;font-size:9.39px;font-weight:700;color:#e4245c;transform:scaleX(0.8746);">APR.</div>
<div class="t" style="left:513.87px;top:174.41px;font-size:7.40px;font-weight:400;color:#c9c9c9;transform:scaleX(0.8300);">MAY</div>
<div class="t" style="left:543.45px;top:174.41px;font-size:7.40px;font-weight:400;color:#c9c9c9;transform:scaleX(0.8602);">İYN.</div>
<div class="t" style="left:572.94px;top:174.41px;font-size:7.40px;font-weight:400;color:#c9c9c9;transform:scaleX(0.8817);">İYL.</div>
<div class="t" style="left:601.10px;top:174.41px;font-size:7.40px;font-weight:400;color:#c9c9c9;transform:scaleX(0.8143);">AVQ.</div>
<div class="t" style="left:630.47px;top:174.41px;font-size:7.40px;font-weight:400;color:#c9c9c9;transform:scaleX(0.7640);">SEN.</div>
<div class="t" style="left:659.57px;top:174.41px;font-size:7.40px;font-weight:400;color:#c9c9c9;transform:scaleX(0.7975);">OKT.</div>
<div class="t" style="left:688.13px;top:174.41px;font-size:7.40px;font-weight:400;color:#c9c9c9;transform:scaleX(0.8186);">NOY.</div>
<div class="t" style="left:717.61px;top:174.41px;font-size:7.40px;font-weight:400;color:#c9c9c9;transform:scaleX(0.7680);">DEK.</div>
<div class="t" style="left:77.59px;top:249.39px;font-size:26.60px;font-weight:700;color:#f6a2bd;transform:scaleX(0.9745);-webkit-text-stroke:0.4px #f6a2bd;">2022</div>
<div class="t" style="left:77.74px;top:289.90px;font-size:19.77px;font-weight:700;color:#9fd3e5;transform:scaleX(0.9028);-webkit-text-stroke:0.3px #9fd3e5;">2021</div>
<div class="t" style="left:77.23px;top:338.09px;font-size:11.66px;font-weight:700;color:#fff;transform:scaleX(1.0598);">PROQNOZ</div>
<div class="t" style="left:77.69px;top:459.87px;font-size:26.74px;font-weight:700;color:#f6a2bd;transform:scaleX(0.9659);-webkit-text-stroke:0.4px #f6a2bd;">2022</div>
<div class="t" style="left:77.73px;top:493.11px;font-size:14.93px;font-weight:700;color:#9fd3e5;transform:scaleX(0.9975);-webkit-text-stroke:0.2px #9fd3e5;">2021</div>
<div class="t" style="left:77.23px;top:543.17px;font-size:11.09px;font-weight:700;color:#fff;transform:scaleX(1.1141);">PROQNOZ</div>
<div class="t" style="left:35.67px;top:386.93px;font-size:18.20px;font-weight:700;color:#111;transform:scaleX(1.1038);-webkit-text-stroke:0.3px #111;">Qeyri-neft-qaz sektoru üzrə vergi daxilolmalarında artım</div>
<div class="t" style="left:528.13px;top:200.80px;font-size:23.18px;font-weight:700;color:#46962a;transform:scaleX(0.7411);-webkit-text-stroke:0.3px #46962a;">55,2%</div>
<div class="t" style="left:605.05px;top:200.80px;font-size:23.18px;font-weight:700;color:#111;transform:scaleX(0.6899);-webkit-text-stroke:0.35px #111;">5.035,4 MLN.</div>
<div class="t" style="left:534.92px;top:331.25px;font-size:24.18px;font-weight:400;color:#959595;transform:scaleX(0.7120);-webkit-text-stroke:0.45px #959595;">150,5%</div>
<div class="t" style="left:386.20px;top:426.95px;font-size:20.76px;font-weight:700;color:#46962a;transform:scaleX(0.7272);-webkit-text-stroke:0.3px #46962a;">49,7%</div>
<div class="t" style="left:452.98px;top:426.95px;font-size:20.76px;font-weight:700;color:#111;transform:scaleX(0.6866);-webkit-text-stroke:0.3px #111;">3.430,1 MLN.</div>
<div class="t" style="left:479.87px;top:537.83px;font-size:20.91px;font-weight:400;color:#959595;transform:scaleX(0.7104);-webkit-text-stroke:0.4px #959595;">133,5%</div>

</body></html>
